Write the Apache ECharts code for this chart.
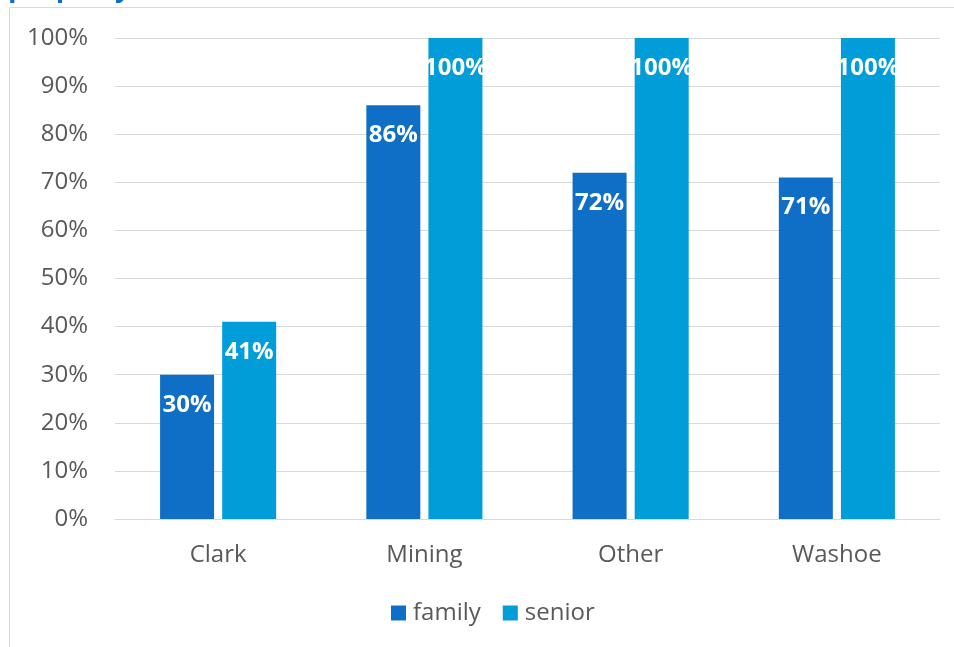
<!DOCTYPE html>
<html><head><meta charset="utf-8">
<script src="https://cdn.jsdelivr.net/npm/echarts@6/dist/echarts.min.js"></script>
<style>html,body{margin:0;padding:0;background:#fff;}#c{width:954px;height:647px;}</style>
</head><body><div id="c"></div>
<script>
const categories = ['Clark', 'Mining', 'Other', 'Washoe'];
const familyValues = [30, 86, 72, 71];
const seniorValues = [41, 100, 100, 100];
const yTicks = [0, 10, 20, 30, 40, 50, 60, 70, 80, 90, 100];

const chart = echarts.init(document.getElementById('c'), null, {renderer: 'canvas'});
const FONT = '"Open Sans", "Noto Sans", sans-serif';
const lbl = {
  show: true, position: 'insideTop', distance: 18, color: '#ffffff',
  fontWeight: 'bold', fontSize: 24, fontFamily: FONT,
  formatter: p => p.value + '%'
};
chart.setOption({
  animation: false,
  graphic: [
    {type: 'rect', shape: {x: 9.5, y: 7.5, width: 1100, height: 800},
     style: {fill: 'none', stroke: '#d9d9d9', lineWidth: 1}, z: -1},
    {type: 'text', x: 8, y: 2,
     style: {text: 'property', fill: '#0f6fc6', font: 'bold 28px ' + FONT, verticalAlign: 'bottom'}}
  ],
  grid: {left: 115, right: 14, top: 38, bottom: 128, containLabel: false},
  legend: {
    data: ['family', 'senior'], top: 596, left: 386,
    itemWidth: 15, itemHeight: 15, itemGap: 22, icon: 'rect',
    textStyle: {fontSize: 24, color: '#595959', fontFamily: FONT, padding: [0, 0, 0, 2]}
  },
  xAxis: {
    type: 'category', data: categories,
    axisLine: {lineStyle: {color: '#d9d9d9'}},
    axisTick: {show: false},
    axisLabel: {fontSize: 24, color: '#595959', fontFamily: FONT, margin: 24}
  },
  yAxis: {
    type: 'value', min: 0, max: 100, interval: 10,
    axisLine: {show: false}, axisTick: {show: false},
    splitLine: {lineStyle: {color: '#d9d9d9', width: 1}},
    axisLabel: {fontSize: 24, color: '#595959', fontFamily: FONT, margin: 27,
      formatter: v => yTicks.includes(v) ? v + '%' : ''}
  },
  series: [
    {name: 'family', type: 'bar', data: familyValues, barWidth: 54, barGap: '15%',
     itemStyle: {color: '#0f6fc6'}, label: lbl},
    {name: 'senior', type: 'bar', data: seniorValues, barWidth: 54, barGap: '15%',
     itemStyle: {color: '#009dd9'}, label: lbl}
  ]
});
</script></body></html>
